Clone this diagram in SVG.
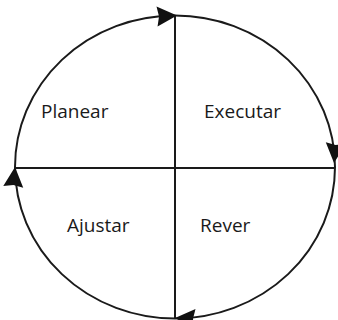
<svg xmlns="http://www.w3.org/2000/svg" width="338" height="320" viewBox="0 0 338 320">
<style>
.ln{fill:none;stroke:#1a1a1a;stroke-width:2}
.lbl{font-family:"Open Sans","DejaVu Sans",sans-serif;font-size:19px;fill:#1a1a1a}
.ah{fill:#111}
</style>
<defs>
<path id="head" d="M0,0 L-20,-10 L-18,0 L-20,10 Z"/>
</defs>
<rect width="338" height="320" fill="#fff"/>
<g id="connectors">
<ellipse class="ln" cx="175" cy="167" rx="160" ry="151.5"/>
<line class="ln" x1="15" y1="168" x2="335" y2="168"/>
<line class="ln" x1="175" y1="15" x2="175" y2="318"/>
<use href="#head" class="ah" transform="translate(177,15.5) rotate(-3)"/>
<use href="#head" class="ah" transform="translate(334,163) rotate(95)"/>
<use href="#head" class="ah" transform="translate(175,318) rotate(183)"/>
<use href="#head" class="ah" transform="translate(15,167) rotate(-85)"/>
</g>
<g id="planear"><text class="lbl" x="41" y="118">Planear</text></g>
<g id="executar"><text class="lbl" x="204" y="118">Executar</text></g>
<g id="ajustar"><text class="lbl" x="67" y="232">Ajustar</text></g>
<g id="rever"><text class="lbl" x="200" y="232">Rever</text></g>
</svg>
